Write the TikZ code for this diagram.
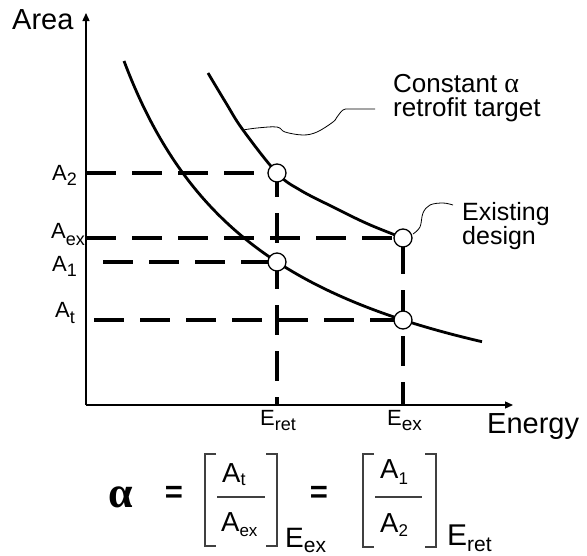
\documentclass[tikz,border=0pt]{standalone}
\usepackage{fontspec}
\setmainfont{Liberation Sans}
\newfontfamily\grkfont{Liberation Serif}
\usetikzlibrary{arrows.meta}
\newcommand{\dnsub}[3]{\raisebox{-#2pt}{\fontsize{#1}{#1}\selectfont #3}}
\begin{document}
\begin{tikzpicture}[x=1pt,y=-1pt,
  axisline/.style={line width=1.3pt, -{Triangle[length=8pt,width=7pt]}},
  curveline/.style={line width=2.8pt},
  hdash/.style={line width=3.8pt, dash pattern=on 30pt off 16pt},
  vdash/.style={line width=3.2pt, dash pattern=on 30pt off 16pt},
  opoint/.style={circle, draw, fill=white, line width=1.3pt, minimum size=18pt, inner sep=0pt},
  leader/.style={line width=0.8pt},
  txt/.style={inner sep=0pt, anchor=base west},
  bigfont/.style={font=\fontsize{29}{29}\selectfont},
  labfont/.style={font=\fontsize{22}{22}\selectfont},
  eqfont/.style={font=\fontsize{27.5}{27.5}\selectfont},
  eqsign/.style={inner sep=0pt, font=\fontsize{31}{31}\selectfont\bfseries},
  brack/.style={line width=1.2pt, draw=black!75},
]
\useasboundingbox (0,0) rectangle (587,555);

% axes
\coordinate (O) at (86,405);
\coordinate (ytop) at (86,13);
\coordinate (xend) at (513,405);
\draw[axisline] (O) -- (ytop);
\draw[axisline] (O) -- (xend);

% key points
\coordinate (P2) at (277,173);
\coordinate (Pex) at (403,238);
\coordinate (P1) at (277,262);
\coordinate (Pt) at (403,320);

% curves
\draw[curveline] plot[domain=124:482, samples=80, smooth] (\x, {459.7 - 600.04/((\x+26.5)/100)});
\draw[curveline] plot[smooth, tension=0.6] coordinates {(208,73) (226,103) (243,130) (277,173) (300,190) (333,207) (368,224) (403,238)};

% dashed guide lines
\coordinate (yA2) at (86,173);
\coordinate (yAex) at (86,238);
\coordinate (yA1) at (86,262);
\coordinate (yAt) at (94,320);
\coordinate (xEret) at (277,405);
\coordinate (xEex) at (403,405);
\draw[hdash] (yA2) -- (P2);
\draw[hdash] (yAex) -- (Pex);
\draw[hdash, dash phase=29pt] (yA1) -- (P1);
\draw[hdash] (yAt) -- (Pt);
\draw[vdash, dash phase=6pt] (P2) -- (xEret);
\draw[vdash, dash phase=40pt] (Pex) -- (xEex);

% circles
\node[opoint] (c2) at (P2) {};
\node[opoint] (cex) at (Pex) {};
\node[opoint] (c1) at (P1) {};
\node[opoint] (ct) at (Pt) {};

% axis titles
\node[txt, bigfont] (area) at (12,29) {Area};
\node[txt, bigfont] (energy) at (487,433) {Energy};

% axis labels
\node[txt, labfont] (lA2) at (52,180) {A\dnsub{18}{5}{2}};
\node[txt, labfont] (lAex) at (51,238) {A\dnsub{18}{7}{ex}};
\node[txt, labfont] (lA1) at (52,271) {A\dnsub{18}{5}{1}};
\node[txt, labfont] (lAt) at (55,317) {A\dnsub{18}{6}{t}};
\node[txt, labfont] (lEret) at (260,425) {E\dnsub{18}{5}{ret}};
\node[txt, labfont] (lEex) at (387,425) {E\dnsub{19}{5}{ex}};

% annotations
\node[txt, font=\fontsize{26}{26}\selectfont] (cat1) at (393,92) {Constant {\grkfont\fontsize{28}{28}\selectfont α}};
\node[txt, font=\fontsize{26}{26}\selectfont] (cat2) at (393,116) {retrofit target};
\node[txt, font=\fontsize{25}{25}\selectfont] (exd1) at (462,220) {Existing};
\node[txt, font=\fontsize{25}{25}\selectfont] (exd2) at (462,244) {design};
\draw[leader] plot[smooth, tension=0.6] coordinates {(243,130) (257,128) (277,127) (285,132) (303,135) (317,132) (333,122) (337,117) (343,110) (350,109) (375,109)};
\draw[leader] plot[smooth, tension=0.6] coordinates {(413,234) (420,227) (423,213) (430,205) (443,203) (453,205)};

% equation
\node[inner sep=0pt, font=\fontsize{44}{44}\selectfont\grkfont\bfseries] (alpha) at (121,497) {α};
\node[eqsign] (eq1) at (174,494) {=};
\node[eqsign] (eq2) at (319,494) {=};
\draw[brack] (216,454) -- (205,454) -- (205,546) -- (216,546);
\draw[brack] (266,454) -- (277,454) -- (277,546) -- (266,546);
\draw[brack] (374,454) -- (363,454) -- (363,547) -- (374,547);
\draw[brack] (425,454) -- (436,454) -- (436,547) -- (425,547);
\draw[brack] (217,497) -- (265,497);
\draw[brack] (375,497) -- (422,497);
\node[txt, eqfont] (fAt) at (222,482) {A\dnsub{18}{3}{t}};
\node[txt, eqfont] (fAex) at (221,531) {A\dnsub{17}{5}{ex}};
\node[txt, eqfont] (fA1) at (380,478) {A\dnsub{17}{6}{1}};
\node[txt, eqfont] (fA2) at (380,532) {A\dnsub{17}{4}{2}};
\node[txt, font=\fontsize{28}{28}\selectfont] (fEex) at (285,547) {E\dnsub{21}{5}{ex}};
\node[txt, font=\fontsize{30}{30}\selectfont] (fEret) at (447,545) {E\dnsub{21}{6}{ret}};
\end{tikzpicture}
\end{document}
